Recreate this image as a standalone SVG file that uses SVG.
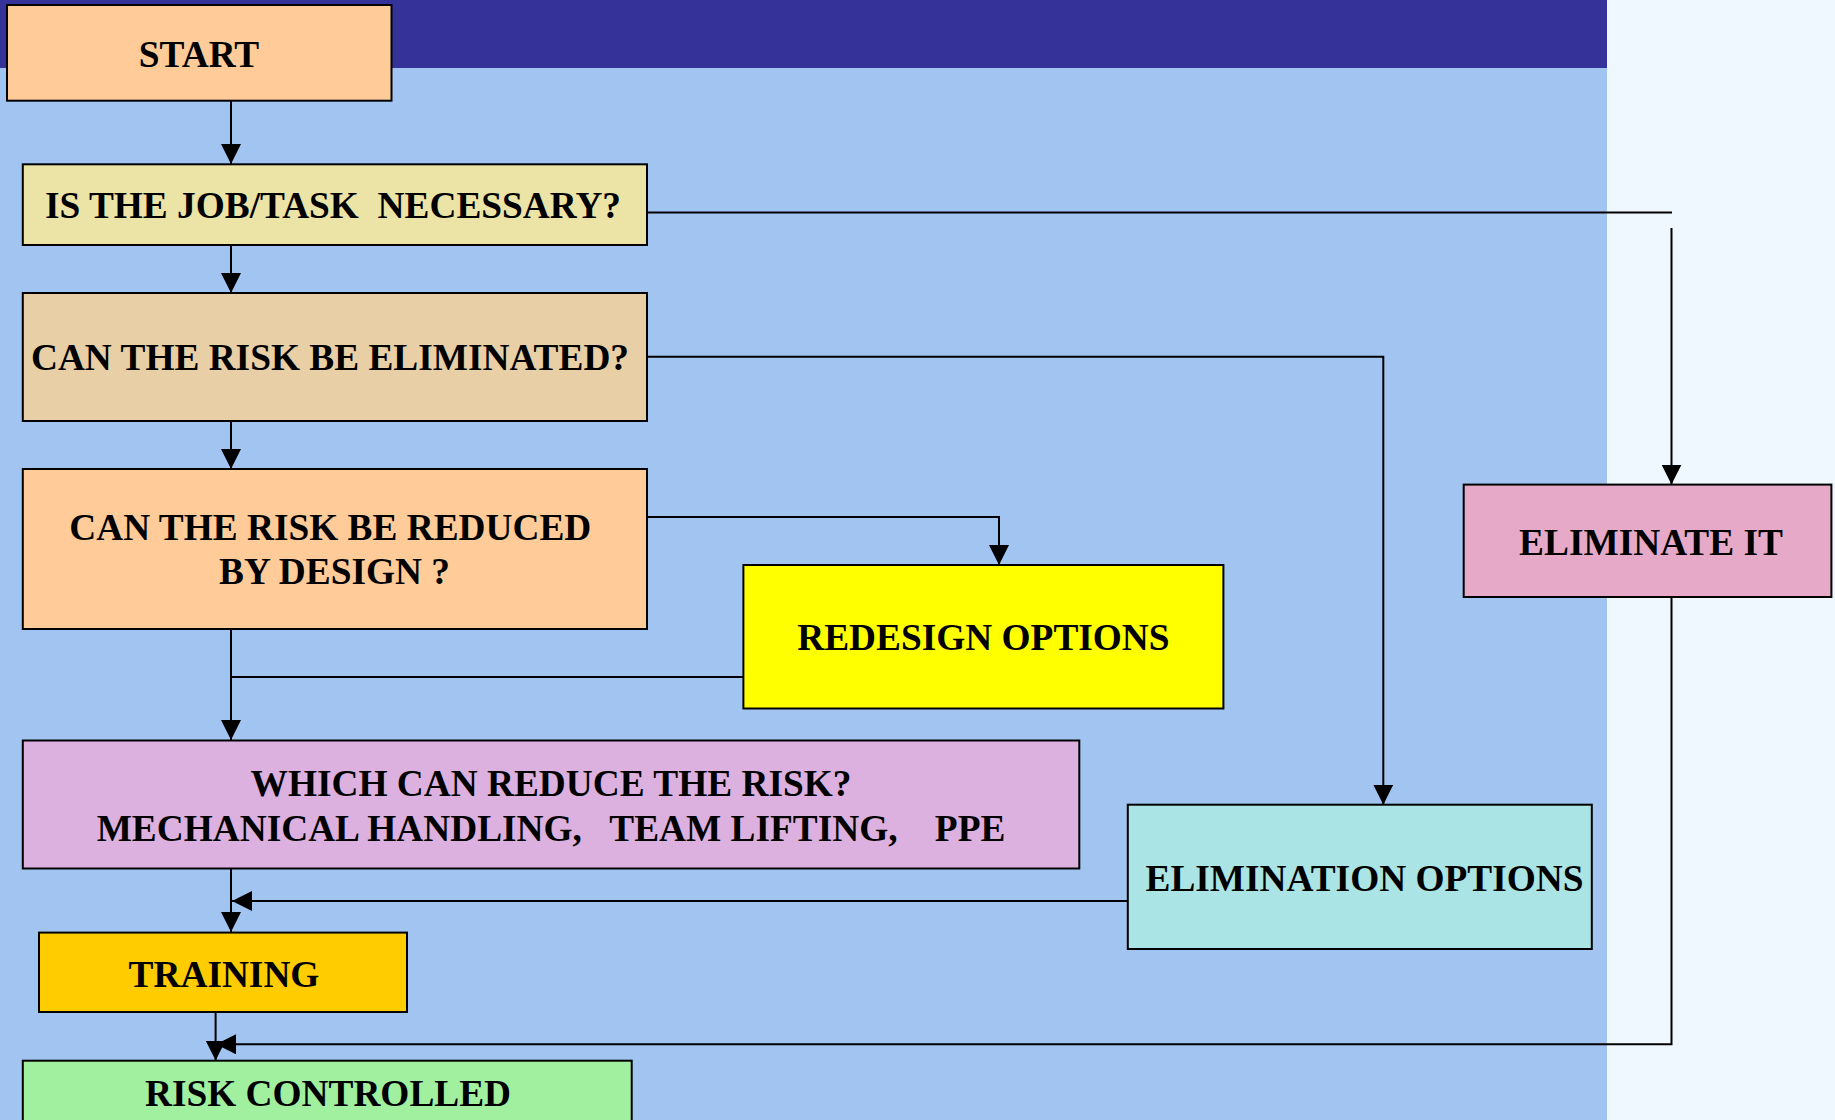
<svg xmlns="http://www.w3.org/2000/svg" width="1835" height="1120" viewBox="0 0 1835 1120">
<style>
.box{stroke:#000;stroke-width:2}
.t{font-family:"Liberation Serif","Times New Roman",serif;font-weight:bold;font-size:37.33px;fill:#000;text-anchor:middle}
.c{fill:none;stroke:#000;stroke-width:2}
</style>
<defs>
<marker id="ah" markerUnits="userSpaceOnUse" markerWidth="20" markerHeight="20" refX="20" refY="10" orient="auto">
<path d="M0,0 L20,10 L0,20 z" fill="#000"/>
</marker>
</defs>
<rect x="0" y="0" width="1835" height="1120" fill="#f0f8ff"/>
<rect x="0" y="68" width="1607" height="1052" fill="#a1c5f0"/>
<rect x="0" y="0" width="1607" height="68" fill="#353399"/>

<g id="connectors">
<path class="c" d="M231,101 V164" marker-end="url(#ah)"/>
<path class="c" d="M231,245 V293" marker-end="url(#ah)"/>
<path class="c" d="M231,421 V469" marker-end="url(#ah)"/>
<path class="c" d="M231,629 V740" marker-end="url(#ah)"/>
<path class="c" d="M743,677 H231"/>
<path class="c" d="M231,868 V932" marker-end="url(#ah)"/>
<path class="c" d="M1128,901 H232" marker-end="url(#ah)"/>
<path class="c" d="M215.6,1012 V1060.5" marker-end="url(#ah)"/>
<path class="c" d="M1671.5,597 V1044.3 H216" marker-end="url(#ah)"/>
<path class="c" d="M647,212.5 H1672"/>
<path class="c" d="M1671.5,228 V484.6" marker-end="url(#ah)"/>
<path class="c" d="M647,356.7 H1383.3 V804.7" marker-end="url(#ah)"/>
<path class="c" d="M647,517 H999 V565" marker-end="url(#ah)"/>
</g>

<g id="start">
<rect class="box" x="7" y="5" width="384.5" height="95.7" fill="#ffcc99"/>
<text class="t" x="199" y="66.7">START</text>
</g>
<g id="job-necessary">
<rect class="box" x="22.8" y="164.3" width="624.2" height="80.7" fill="#ece4a6"/>
<text class="t" x="333" y="218.3" xml:space="preserve">IS THE JOB/TASK  NECESSARY?</text>
</g>
<g id="risk-eliminated">
<rect class="box" x="22.8" y="293" width="624.2" height="128" fill="#e8cfa5"/>
<text class="t" x="330" y="370">CAN THE RISK BE ELIMINATED?</text>
</g>
<g id="reduced-by-design">
<rect class="box" x="22.8" y="469" width="624.2" height="160" fill="#ffcc99"/>
<text class="t" x="330.3" y="539.7">CAN THE RISK BE REDUCED</text>
<text class="t" x="334.5" y="584.4">BY DESIGN ?</text>
</g>
<g id="redesign-options">
<rect class="box" x="743.4" y="565" width="480" height="143.5" fill="#ffff00"/>
<text class="t" x="983.4" y="650.4">REDESIGN OPTIONS</text>
</g>
<g id="which-reduce">
<rect class="box" x="22.8" y="740.5" width="1056.5" height="128" fill="#dcb1df"/>
<text class="t" x="551" y="795.6">WHICH CAN REDUCE THE RISK?</text>
<text class="t" x="551" y="841" xml:space="preserve">MECHANICAL HANDLING,   TEAM LIFTING,    PPE</text>
</g>
<g id="elimination-options">
<rect class="box" x="1127.8" y="804.7" width="464" height="144.3" fill="#abe4e4"/>
<text class="t" x="1364.5" y="891">ELIMINATION OPTIONS</text>
</g>
<g id="eliminate-it">
<rect class="box" x="1463.7" y="484.6" width="367.7" height="112.4" fill="#e6aac8"/>
<text class="t" x="1651" y="555">ELIMINATE IT</text>
</g>
<g id="training">
<rect class="box" x="39" y="932.6" width="368" height="79.4" fill="#ffcc00"/>
<text class="t" x="224" y="986.5">TRAINING</text>
</g>
<g id="risk-controlled">
<rect class="box" x="22.8" y="1060.7" width="608.9" height="70" fill="#a0f0a0"/>
<text class="t" x="328" y="1106">RISK CONTROLLED</text>
</g>
</svg>
